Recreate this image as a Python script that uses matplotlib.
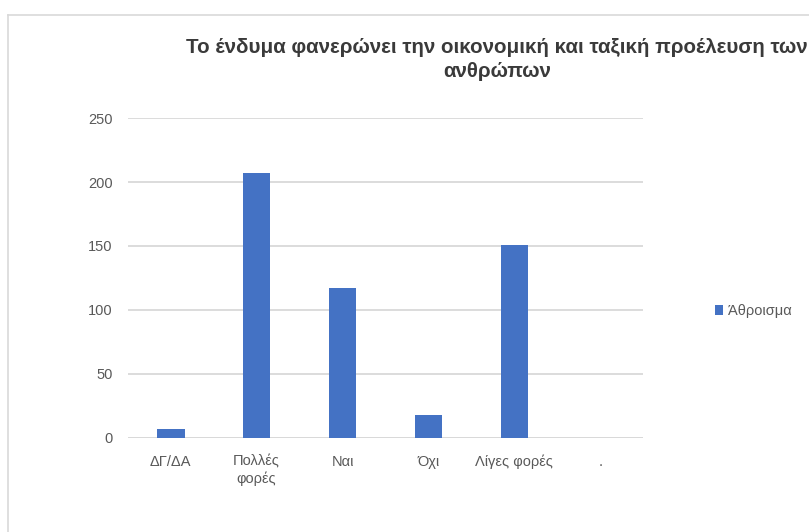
import matplotlib.pyplot as plt
from matplotlib.lines import Line2D

categories = ["ΔΓ/ΔΑ", "Πολλές\nφορές", "Ναι", "Όχι", "Λίγες φορές", "."]
values = [7, 207, 117, 18, 151, 0]
series_name = "Άθροισμα"
title = "Το ένδυμα φανερώνει την οικονομική και ταξική προέλευση των\nανθρώπων"

plt.rcParams['font.family'] = ['Liberation Sans', 'DejaVu Sans']

fig = plt.figure(figsize=(8.09, 5.32), dpi=100)
ax = fig.add_axes([0.158, 0.177, 0.637, 0.601])

x = range(len(categories))
bars = ax.bar(x, values, width=0.32, color="#4472C4", label=series_name, zorder=3)

ax.set_xlim(-0.5, len(categories) - 0.5)
ax.set_ylim(0, 250)
ax.set_yticks(range(0, 251, 50))
ax.set_xticks(list(x))
ax.set_xticklabels(categories, color="#595959", fontsize=10.5, linespacing=1.25)
ax.tick_params(axis="y", colors="#595959", labelsize=10.5, length=0, pad=11)
ax.tick_params(axis="x", length=0, pad=12)
ax.yaxis.grid(True, color="#d9d9d9", linewidth=1.3, zorder=0)
for s in ax.spines.values():
    s.set_visible(False)
ax.axhline(0, color="#d9d9d9", linewidth=1.3, zorder=1)

fig.text(0.614, 0.888, title, ha="center", va="center", fontsize=14.8,
         fontweight="bold", color="#3a3a3a", linespacing=1.3)

fig.legend(handles=[bars], labels=[series_name], loc="center left",
           bbox_to_anchor=(0.867, 0.415), frameon=False, fontsize=10.5,
           handlelength=0.6, handleheight=0.6, handletextpad=0.3,
           labelcolor="#595959")

# light chart border along the top and left
fig.add_artist(Line2D([8 / 809, 8 / 809], [0, 1 - 15 / 532], color="#d9d9d9", lw=1.2))
fig.add_artist(Line2D([8 / 809, 1], [1 - 15 / 532, 1 - 15 / 532], color="#d9d9d9", lw=1.2))

fig.savefig("out.png", dpi=100)
